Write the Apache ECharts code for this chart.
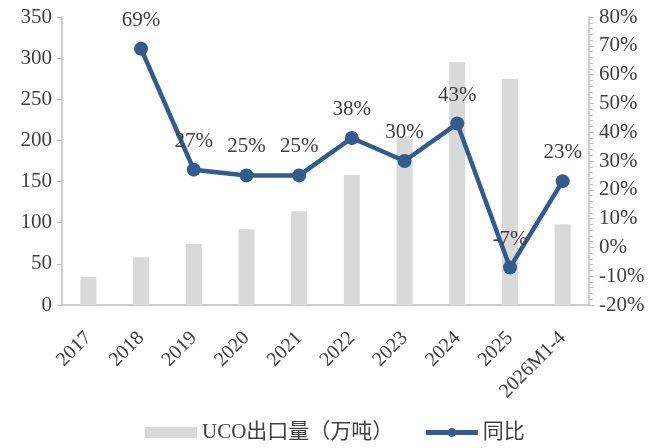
<!DOCTYPE html>
<html>
<head>
<meta charset="utf-8">
<script src="https://cdn.jsdelivr.net/npm/echarts@6/dist/echarts.min.js"></script>
<style>
  html, body { margin: 0; padding: 0; background: #fff; }
  #chart { width: 653px; height: 448px; }
</style>
</head>
<body>
<div id="chart"></div>
<script>
// 年份
const years = ['2017', '2018', '2019', '2020', '2021', '2022', '2023', '2024', '2025', '2026M1-4']
// UCO出口量（万吨）
const exportVol = [34, 58, 74, 92, 114, 158, 205, 295, 275, 98]
// 同比（%）
const yoy = [null, 69, 27, 25, 25, 38, 30, 43, -7, 23]

const FONT = '"Liberation Serif", "Times New Roman", "Noto Sans CJK SC", serif'
const TEXT = '#404040'
const AXIS = '#bfbfbf'
const LINE = '#335c8e'

let chart = echarts.init(document.getElementById('chart'))
let option = {
  animation: false,
  grid: { left: 62, right: 64, top: 17, bottom: 143 },
  legend: {
    bottom: 0,
    left: 140,
    itemGap: 30,
    itemWidth: 52,
    itemHeight: 11,
    textStyle: { fontFamily: FONT, fontSize: 21, color: TEXT },
    data: [
      { name: 'UCO出口量（万吨）', icon: 'rect' },
      { name: '同比', lineStyle: { width: 5, color: LINE } }
    ]
  },
  xAxis: {
    type: 'category',
    data: years,
    axisLine: { lineStyle: { color: AXIS, width: 1.5 } },
    axisTick: { show: false },
    axisLabel: {
      rotate: 45,
      margin: 30,
      interval: 0,
      fontFamily: FONT,
      fontSize: 20,
      color: TEXT
    }
  },
  yAxis: [
    {
      type: 'value',
      min: 0,
      max: 350,
      interval: 50,
      splitLine: { show: false },
      axisLine: { show: true, lineStyle: { color: AXIS, width: 1.5 } },
      axisTick: { show: true, length: 5, lineStyle: { color: AXIS } },
      axisLabel: { fontFamily: FONT, fontSize: 21, color: TEXT, margin: 10 }
    },
    {
      type: 'value',
      min: -20,
      max: 80,
      interval: 10,
      splitLine: { show: false },
      axisLine: { show: true, lineStyle: { color: AXIS, width: 1.5 } },
      axisTick: { show: true, length: 5, lineStyle: { color: AXIS } },
      minorTick: { show: true, splitNumber: 5, length: 4, lineStyle: { color: AXIS } },
      axisLabel: {
        fontFamily: FONT, fontSize: 21, color: TEXT, margin: 10,
        formatter: v => v + '%'
      }
    }
  ],
  series: [
    {
      name: 'UCO出口量（万吨）',
      type: 'bar',
      yAxisIndex: 0,
      barWidth: 16,
      itemStyle: { color: '#d9d9d9' },
      data: exportVol
    },
    {
      name: '同比',
      type: 'line',
      yAxisIndex: 1,
      symbol: 'circle',
      symbolSize: 14,
      connectNulls: false,
      lineStyle: { color: LINE, width: 4.5 },
      itemStyle: { color: LINE },
      label: {
        show: true,
        position: 'top',
        distance: 11,
        fontFamily: FONT,
        fontSize: 21,
        color: TEXT,
        formatter: p => p.value + '%'
      },
      data: yoy
    }
  ]
}
chart.clear()
chart.setOption(option)
</script>
</body>
</html>
